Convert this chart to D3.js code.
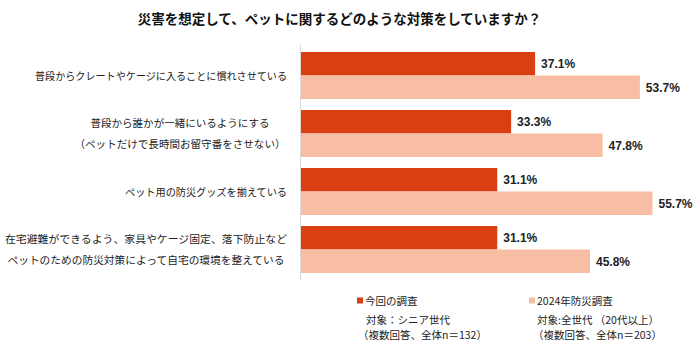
<!DOCTYPE html>
<html><head><meta charset="utf-8">
<script src="https://cdn.jsdelivr.net/npm/d3@7"></script>
<style>
html,body{margin:0;padding:0;background:#fff;}
svg{display:block;}
</style></head>
<body>
<svg id="chart" width="700" height="350"></svg>
<script>
const title = "災害を想定して、ペットに関するどのような対策をしていますか？";
const categories = [
  ["普段からクレートやケージに入ることに慣れさせている"],
  ["普段から誰かが一緒にいるようにする", "（ペットだけで長時間お留守番をさせない）"],
  ["ペット用の防災グッズを揃えている"],
  ["在宅避難ができるよう、家具やケージ固定、落下防止など", "ペットのための防災対策によって自宅の環境を整えている"]
];
const seriesNames = ["今回の調査", "2024年防災調査"];
const currentValues = [37.1, 33.3, 31.1, 31.1];
const survey2024Values = [53.7, 47.8, 55.7, 45.8];
const legendNotes = [
  ["対象：シニア世代", "（複数回答、全体n＝132）"],
  ["対象:全世代 （20代以上）", "（複数回答、全体n＝203）"]
];
const colors = ["#DA3F12", "#F8BEA4"];

// label layout (center x of each text block, widths of each line)
const labelLayout = [
  {cx: 161, w: [252]},
  {cx: 180, w: [179, 211]},
  {cx: 206, w: [162]},
  {cx: 146, w: [282, 277]}
];

const svg = d3.select("#chart");
const jp = "'Noto Sans CJK JP','Noto Sans',sans-serif";
const num = "'Liberation Sans',Arial,sans-serif";

svg.append("text").attr("x", 339.5).attr("y", 24).attr("text-anchor", "middle")
  .attr("font-family", jp).attr("font-weight", "bold").attr("font-size", 13.5)
  .attr("fill", "#111").text(title);

const y = d3.scaleBand().domain(d3.range(categories.length)).range([46.5, 278.5])
  .paddingInner(0.19).paddingOuter(0.095);
const sub = d3.scaleBand().domain([0, 1]).range([0, y.bandwidth()]);
const x = d3.scaleLinear().domain([0, 100]).range([301, 932]);

const series = [currentValues, survey2024Values];
series.forEach((vals, s) => {
  const g = svg.append("g");
  g.selectAll("rect").data(vals).join("rect")
    .attr("x", x(0)).attr("y", (d, i) => y(i) + sub(s))
    .attr("width", d => x(d) - x(0)).attr("height", sub.bandwidth())
    .attr("fill", colors[s]);
  g.selectAll("text").data(vals).join("text")
    .attr("x", d => x(d) + 6).attr("y", (d, i) => y(i) + sub(s) + sub.bandwidth() / 2 + 4.5)
    .attr("font-family", num).attr("font-weight", "bold").attr("font-size", 12)
    .attr("fill", "#222").text(d => d.toFixed(1) + "%");
});

// axis line
svg.append("line").attr("x1", 300.5).attr("x2", 300.5).attr("y1", 45).attr("y2", 280)
  .attr("stroke", "#d9d9d9").attr("stroke-width", 1);

// category labels
categories.forEach((lines, i) => {
  const cy = y(i) + y.bandwidth() / 2;
  const L = labelLayout[i];
  lines.forEach((ln, k) => {
    const off = (k - (lines.length - 1) / 2) * 21;
    svg.append("text").attr("text-anchor", "middle")
      .attr("font-family", jp).attr("font-size", 10.6).attr("fill", "#222")
      .attr("x", L.cx).attr("y", cy + off + 4)
      .attr("textLength", L.w[k]).attr("lengthAdjust", "spacingAndGlyphs")
      .text(ln);
  });
});

// legend
const legX = [357, 529];
const noteX = [[366, 358], [537, 533]];
seriesNames.forEach((name, s) => {
  svg.append("rect").attr("x", legX[s]).attr("y", 297.5).attr("width", 6).attr("height", 6)
    .attr("fill", colors[s]);
  svg.append("text").attr("x", legX[s] + 8).attr("y", 304.5)
    .attr("font-family", jp).attr("font-size", 10.5).attr("fill", "#222").text(name);
  legendNotes[s].forEach((ln, k) => {
    svg.append("text").attr("x", noteX[s][k]).attr("y", 323.5 + k * 15.5)
      .attr("font-family", jp).attr("font-size", 10.5).attr("fill", "#222").text(ln);
  });
});
</script>
</body></html>
